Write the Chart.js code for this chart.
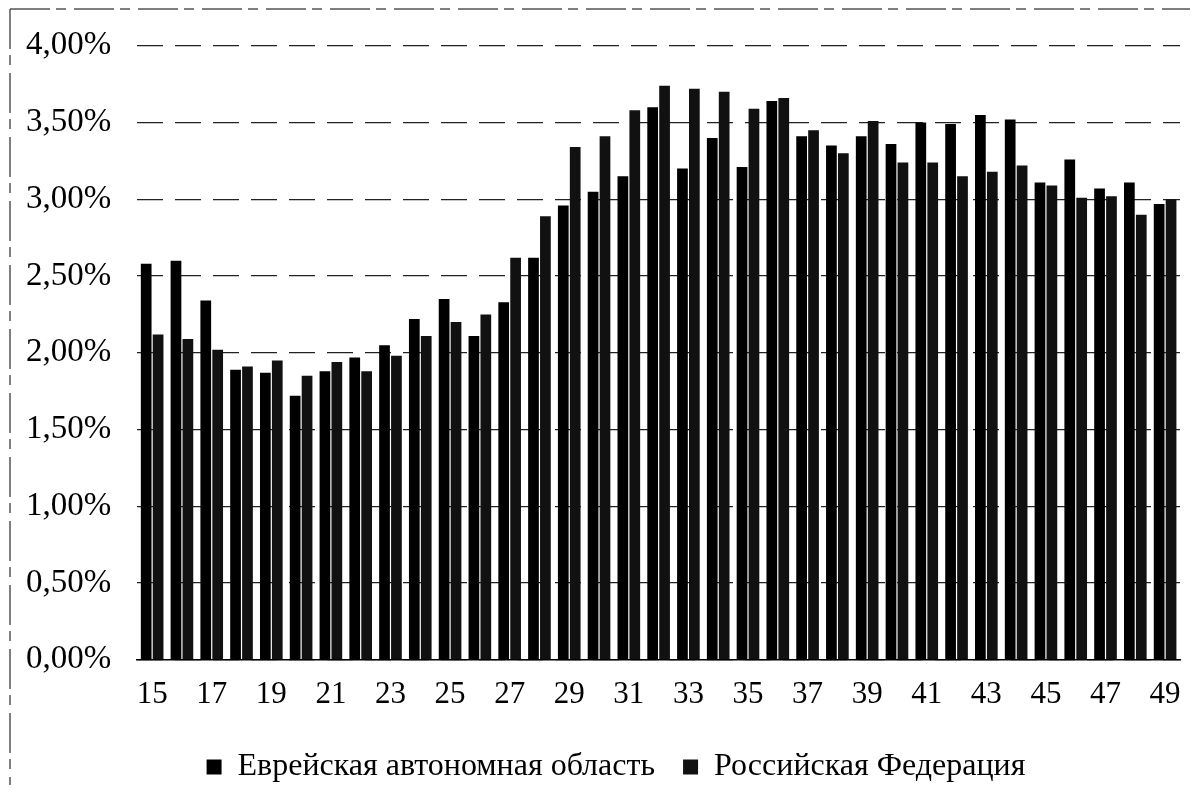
<!DOCTYPE html>
<html>
<head>
<meta charset="utf-8">
<script src="https://cdn.jsdelivr.net/npm/chart.js@4.4.1/dist/chart.umd.min.js"></script>
<style>
  html, body { margin: 0; padding: 0; background: #fff; }
  #wrap { width: 1200px; height: 791px; position: relative; }
</style>
</head>
<body>
<div id="wrap"><canvas id="c" width="1200" height="791"></canvas></div>
<script>
const ages = ["15","16","17","18","19","20","21","22","23","24","25","26","27","28","29","30","31","32","33","34","35","36","37","38","39","40","41","42","43","44","45","46","47","48","49"];
const jewishAO = [2.58,2.60,2.34,1.89,1.87,1.72,1.88,1.97,2.05,2.22,2.35,2.11,2.33,2.62,2.96,3.05,3.15,3.60,3.20,3.40,3.21,3.64,3.41,3.35,3.41,3.36,3.50,3.49,3.55,3.52,3.11,3.26,3.07,3.11,2.97];
const russia   = [2.12,2.09,2.02,1.91,1.95,1.85,1.94,1.88,1.98,2.11,2.20,2.25,2.62,2.89,3.34,3.41,3.58,3.74,3.72,3.70,3.59,3.66,3.45,3.30,3.51,3.24,3.24,3.15,3.18,3.22,3.09,3.01,3.02,2.90,3.00];
const yTicks = [0,0.5,1,1.5,2,2.5,3,3.5,4];
const seriesNames = ["Еврейская автономная область","Российская Федерация"];

const frame = {
  id: 'frame',
  afterLayout(chart) {
    if (chart.legend) {
      chart.legend.left += 26;
      chart.legend.right += 26;
      chart.legend.top += 2;
      chart.legend.bottom += 2;
    }
  },
  beforeDraw(chart) {
    const ctx = chart.ctx;
    ctx.save();
    ctx.strokeStyle = '#555';
    ctx.lineWidth = 1.5;
    ctx.setLineDash([40, 6, 10, 8]);
    ctx.beginPath();
    ctx.moveTo(10, 9); ctx.lineTo(1190, 9);
    ctx.moveTo(10, 9); ctx.lineTo(10, 785);
    ctx.stroke();
    ctx.restore();
  }
};

new Chart(document.getElementById('c'), {
  type: 'bar',
  data: {
    labels: ages,
    datasets: [
      { label: seriesNames[0], data: jewishAO, backgroundColor: '#000', borderWidth: 0 },
      { label: seriesNames[1], data: russia, backgroundColor: '#111', borderWidth: 0 }
    ]
  },
  options: {
    responsive: false,
    animation: false,
    devicePixelRatio: 1,
    layout: { padding: { top: 29, right: 20, left: 0, bottom: 0 } },
    plugins: {
      legend: {
        position: 'bottom',
        labels: {
          color: '#000',
          font: { family: 'Liberation Serif', size: 32 },
          boxWidth: 15, boxHeight: 15, padding: 28
        }
      },
      tooltip: { enabled: false }
    },
    scales: {
      x: {
        categoryPercentage: 0.62,
        barPercentage: 1.0,
        grid: { display: false },
        border: { display: true, color: '#000', width: 1.5 },
        ticks: {
          autoSkip: false,
          maxRotation: 0,
          color: '#000',
          padding: 8,
          font: { family: 'Liberation Serif', size: 31 },
          callback: function(v, i) { return i % 2 === 0 ? ages[i] : ''; }
        }
      },
      y: {
        min: 0, max: 4,
        afterBuildTicks: (ax) => { ax.ticks = yTicks.map(v => ({ value: v })); },
        grid: { color: '#222', lineWidth: 1.2, drawTicks: false },
        border: { display: false, dash: [26, 12] },
        ticks: {
          color: '#000',
          padding: 26,
          font: { family: 'Liberation Serif', size: 33 },
          callback: (v) => v.toFixed(2).replace('.', ',') + '%'
        }
      }
    }
  },
  plugins: [frame]
});
</script>
</body>
</html>
